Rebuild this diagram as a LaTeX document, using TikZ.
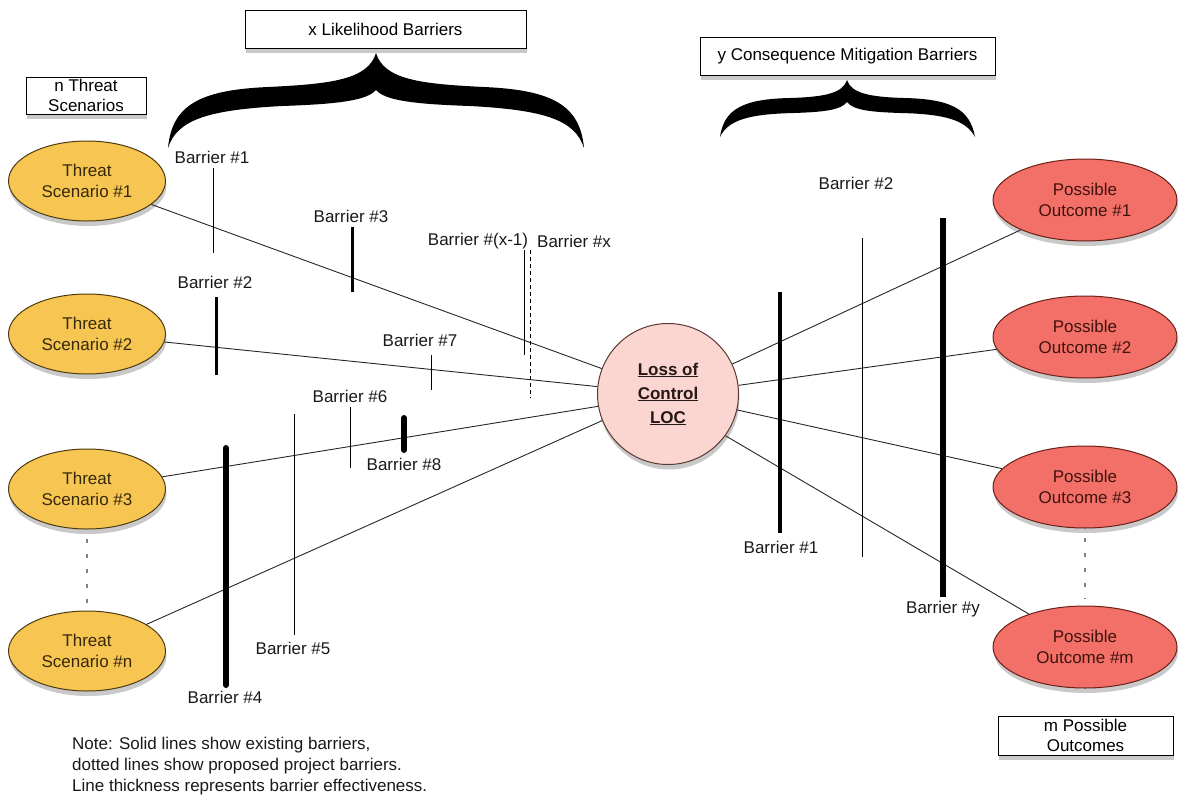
\documentclass[tikz,border=0pt]{standalone}
\usepackage{fontspec}
\setmainfont{Liberation Sans}
\usetikzlibrary{shapes.geometric,shadows,positioning}
\definecolor{threatfill}{RGB}{247,197,82}
\definecolor{threatline}{RGB}{77,58,16}
\definecolor{outcomefill}{RGB}{242,112,104}
\definecolor{outcomeline}{RGB}{107,32,24}
\definecolor{locfill}{RGB}{251,214,208}
\definecolor{locline}{RGB}{92,58,52}
\tikzset{
	every node/.style={font=\fontsize{17pt}{21pt}\selectfont},
	softshadow/.style={drop shadow={shadow xshift=1pt, shadow yshift=-5pt, opacity=0.3, fill=black!70}},
	threat/.style={ellipse, draw=threatline, fill=threatfill, line width=1pt, minimum width=157pt, minimum height=80pt, inner sep=0pt, align=center, text=threatline!70!black, softshadow},
	outcome/.style={ellipse, draw=outcomeline, fill=outcomefill, line width=1pt, minimum width=184pt, minimum height=82pt, inner sep=0pt, align=center, text=outcomeline!60!black, softshadow},
	loc/.style={circle, draw=locline, fill=locfill, line width=1pt, minimum size=141pt, inner sep=0pt, align=center, text=locline!40!black, font=\fontsize{17pt}{24pt}\selectfont\bfseries, softshadow},
	caption/.style={draw, fill=white, line width=1pt, align=center, inner sep=0pt, font=\fontsize{17pt}{20pt}\selectfont, softshadow},
	blabel/.style={inner sep=0pt, text=black!90},
	link/.style={draw=black!85, line width=0.9pt},
	barrier/.style={draw=black, line width=#1},
	barrier/.default=1pt,
	ellipsis/.style={draw=gray, line width=2pt, dash pattern=on 4pt off 11pt},
}

\begin{document}
\begin{tikzpicture}[x=1pt, y=-1pt]
		\useasboundingbox (0,0) rectangle (1181,798);

		% Define nodes
		\node[threat] (TS1) at (87,181) {Threat\\Scenario \#1};
		\node[threat] (TS2) at (87,334) {Threat\\Scenario \#2};
		\node[threat] (TS3) at (87,489) {Threat\\Scenario \#3};
		\node[threat] (TSn) at (87,651) {Threat\\Scenario \#n};

		\node[loc] (LOC) at (668,394) {\underline{Loss of}\\\underline{Control}\\\underline{LOC}};

		\node[outcome] (PO1) at (1085,200) {Possible\\Outcome \#1};
		\node[outcome] (PO2) at (1085,337) {Possible\\Outcome \#2};
		\node[outcome] (PO3) at (1085,487) {Possible\\Outcome \#3};
		\node[outcome] (POm) at (1085,647) {Possible\\Outcome \#m};

		\node[caption, minimum width=120pt, minimum height=37pt] (nTS) at (86,95.5) {n Threat\\Scenarios};
		\node[caption, minimum width=281pt, minimum height=38pt] (xLB) at (385.5,29) {x Likelihood Barriers};
		\node[caption, minimum width=295pt, minimum height=38pt] (yCMB) at (847.5,56) {y Consequence Mitigation Barriers};
		\node[caption, minimum width=175pt, minimum height=39pt] (mPO) at (1085.5,735.5) {m Possible\\Outcomes};

		% Braces
		\fill (168,148) .. controls (172,105) and (200,90) .. (268,87) .. controls (330,84) and (368,80) .. (376,53)
			.. controls (384,80) and (422,84) .. (484,87) .. controls (552,90) and (580,105) .. (584,148)
			.. controls (575,120) and (545,110) .. (470,106) .. controls (410,104) and (385,100) .. (376,90)
			.. controls (367,100) and (342,104) .. (282,106) .. controls (207,110) and (177,120) .. (168,148) -- cycle;
		\fill (720,137) .. controls (724,108) and (745,99) .. (790,98) .. controls (825,97) and (843,93) .. (847,80)
			.. controls (851,93) and (869,97) .. (904,98) .. controls (949,99) and (970,108) .. (975,137)
			.. controls (966,120) and (945,114) .. (900,113) .. controls (870,112) and (853,110) .. (847,102)
			.. controls (841,110) and (824,112) .. (794,113) .. controls (749,114) and (728,120) .. (720,137) -- cycle;

		% Connect the nodes
		\draw[link] (TS1) -- (LOC.159);
		\draw[link] (TS2) -- (LOC.174);
		\draw[link] (TS3) -- (LOC.190);
		\draw[link] (TSn) -- (LOC.202);
		\draw[link] (LOC.25) -- (PO1);
		\draw[link] (LOC.7) -- (PO2);
		\draw[link] (LOC.-13) -- (PO3);
		\draw[link] (LOC.-36) -- (POm);

		\draw[ellipsis, shorten <=9pt, shorten >=8pt] (TS3.south) -- (TSn.north);
		\draw[ellipsis, shorten <=9pt, shorten >=7pt] (PO3.south) -- (POm.north);

		% Likelihood barriers
		\draw[barrier] (213,168) -- (213,253);
		\draw[barrier=3pt] (216,297) -- (216,375);
		\draw[barrier=3pt] (352,227) -- (352,292);
		\draw[barrier] (524,250) -- (524,355);
		\draw[barrier, dash pattern=on 4pt off 3pt] (530,250) -- (530,398);
		\draw[barrier] (431,355) -- (431,390);
		\draw[barrier] (350,407) -- (350,468);
		\draw[barrier=6pt, line cap=round] (404,418) -- (404,450);
		\draw[barrier] (294,414) -- (294,635);
		\draw[barrier=6pt, line cap=round] (226,448) -- (226,685);

		\node[blabel] (B1) at (212,157) {Barrier \#1};
		\node[blabel] (B2) at (215,282) {Barrier \#2};
		\node[blabel] (B3) at (351,216) {Barrier \#3};
		\node[blabel] (Bx1) at (478,241) {Barrier \#(x-1)};
		\node[blabel] (Bx) at (574,241) {Barrier \#x};
		\node[blabel] (B7) at (420,340) {Barrier \#7};
		\node[blabel] (B6) at (350,396) {Barrier \#6};
		\node[blabel] (B8) at (404,464) {Barrier \#8};
		\node[blabel] (B5) at (293,648) {Barrier \#5};
		\node[blabel] (B4) at (225,697) {Barrier \#4};

		% Consequence mitigation barriers
		\draw[barrier=4pt] (780,292) -- (780,533);
		\draw[barrier] (862,238) -- (862,557);
		\draw[barrier=6pt] (943,218) -- (943,597);

		\node[blabel] (RB1) at (781,547) {Barrier \#1};
		\node[blabel] (RB2) at (856,183) {Barrier \#2};
		\node[blabel] (RBy) at (943,609) {Barrier \#y};

		% Note
		\node[blabel, anchor=west, align=left] (note) at (72,766) {Note: Solid lines show existing barriers,\\dotted lines show proposed project barriers.\\Line thickness represents barrier effectiveness.};
\end{tikzpicture}
\end{document}
